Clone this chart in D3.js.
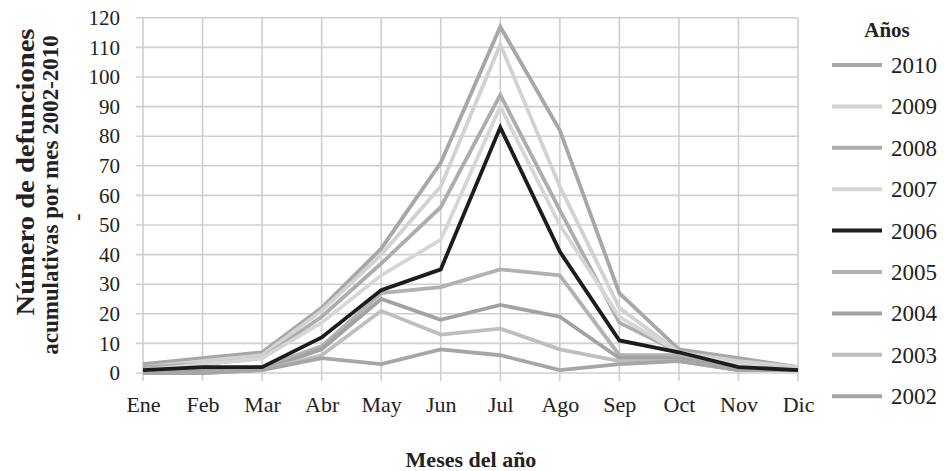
<!DOCTYPE html>
<html>
<head>
<meta charset="utf-8">
<script src="https://cdn.jsdelivr.net/npm/d3@7"></script>
<style>
  html, body { margin: 0; padding: 0; background: #fff; }
  svg { display: block; }
  text { font-family: "Liberation Serif", "Times New Roman", serif; fill: #222; }
</style>
</head>
<body>
<svg id="chart" width="944" height="471"></svg>
<script>
const months = ["Ene","Feb","Mar","Abr","May","Jun","Jul","Ago","Sep","Oct","Nov","Dic"];
const yTicks = [0,10,20,30,40,50,60,70,80,90,100,110,120];
const years = ["2010","2009","2008","2007","2006","2005","2004","2003","2002"];

const v2010 = [3, 5, 7, 22, 42, 71, 117, 82, 27, 8, 5, 2];
const v2009 = [2, 4, 6, 21, 40, 63, 111, 63, 22, 7, 4, 2];
const v2008 = [2, 3, 5, 19, 37, 56, 94, 55, 17, 7, 3, 1];
const v2007 = [1, 3, 5, 17, 33, 45, 90, 50, 19, 7, 3, 1];
const v2006 = [1, 2, 2, 12, 28, 35, 83, 41, 11, 7, 2, 1];
const v2005 = [0, 1, 2, 9, 27, 29, 35, 33, 6, 6, 1, 1];
const v2004 = [0, 1, 1, 8, 25, 18, 23, 19, 5, 5, 1, 1];
const v2003 = [0, 0, 1, 6, 21, 13, 15, 8, 4, 4, 1, 1];
const v2002 = [0, 0, 1, 5, 3, 8, 6, 1, 3, 4, 1, 1];

const seriesValues = [v2010, v2009, v2008, v2007, v2006, v2005, v2004, v2003, v2002];
const colors = ["#a7a7a7", "#d2d2d2", "#adadad", "#d6d6d6", "#1c1c1c", "#b1b1b1", "#a2a2a2", "#bebebe", "#a6a6a6"];

const svg = d3.select("#chart");

const x = d3.scalePoint().domain(months).range([143, 798]);
const y = d3.scaleLinear().domain([0, 120]).range([373, 17.8]);

// Grid
const grid = svg.append("g");
grid.selectAll("line.h").data(yTicks).join("line")
  .attr("x1", 136).attr("x2", 798)
  .attr("y1", d => y(d)).attr("y2", d => y(d))
  .attr("stroke", "#cfcfcf").attr("stroke-width", 1.6);
grid.selectAll("line.v").data(months).join("line")
  .attr("x1", d => x(d)).attr("x2", d => x(d))
  .attr("y1", y(120)).attr("y2", y(0) + 8)
  .attr("stroke", "#cfcfcf").attr("stroke-width", 1.6);

// Y axis labels
const yAxis = d3.axisLeft(y).tickValues(yTicks).tickSize(0).tickPadding(0);
const yg = svg.append("g").attr("transform", "translate(120,0)").call(yAxis);
yg.select(".domain").remove();
yg.selectAll("text").style("font-size", "21px").attr("fill", "#222")
  .style("font-family", '"Liberation Serif", serif');

// X axis labels
const xAxis = d3.axisBottom(x).tickSize(0).tickPadding(0);
const xg = svg.append("g").attr("transform", "translate(0,396)").call(xAxis);
xg.select(".domain").remove();
xg.selectAll("text").style("font-size", "22px").attr("fill", "#222")
  .style("font-family", '"Liberation Serif", serif');

// Lines
const line = d3.line().x((d, i) => x(months[i])).y(d => y(d));
const order = [0,1,2,3,5,6,7,8,4];
const lg = svg.append("g");
order.forEach(i => {
  lg.append("path")
    .datum(seriesValues[i])
    .attr("d", line)
    .attr("fill", "none")
    .attr("stroke", colors[i])
    .attr("stroke-width", 3.8)
    .attr("stroke-linejoin", "miter");
});

// Axis titles
svg.append("text")
  .attr("x", 471).attr("y", 467)
  .attr("text-anchor", "middle")
  .style("font-size", "22px").style("font-weight", "bold")
  .text("Meses del año");

const yt = svg.append("g").attr("transform", "rotate(-90)");
yt.append("text").attr("x", -172).attr("y", 34).attr("text-anchor", "middle")
  .attr("textLength", 287).attr("lengthAdjust", "spacingAndGlyphs")
  .style("font-size", "25px").style("font-weight", "bold")
  .text("Número de defunciones");
yt.append("text").attr("x", -195).attr("y", 58).attr("text-anchor", "middle")
  .style("font-size", "23px").style("font-weight", "bold")
  .text("acumulativas por mes 2002-2010");
yt.append("text").attr("x", -217).attr("y", 84).attr("text-anchor", "middle")
  .style("font-size", "22px").style("font-weight", "bold")
  .text("-");

// Legend
const leg = svg.append("g");
leg.append("text").attr("x", 887).attr("y", 37).attr("text-anchor", "middle")
  .style("font-size", "21px").style("font-weight", "bold").text("Años");
years.forEach((yr, i) => {
  const cy = 65 + i * 41.4;
  leg.append("line").attr("x1", 832).attr("x2", 882).attr("y1", cy).attr("y2", cy)
    .attr("stroke", colors[i]).attr("stroke-width", 4);
  leg.append("text").attr("x", 891).attr("y", cy + 8)
    .style("font-size", "23px").text(yr);
});
</script>
</body>
</html>
